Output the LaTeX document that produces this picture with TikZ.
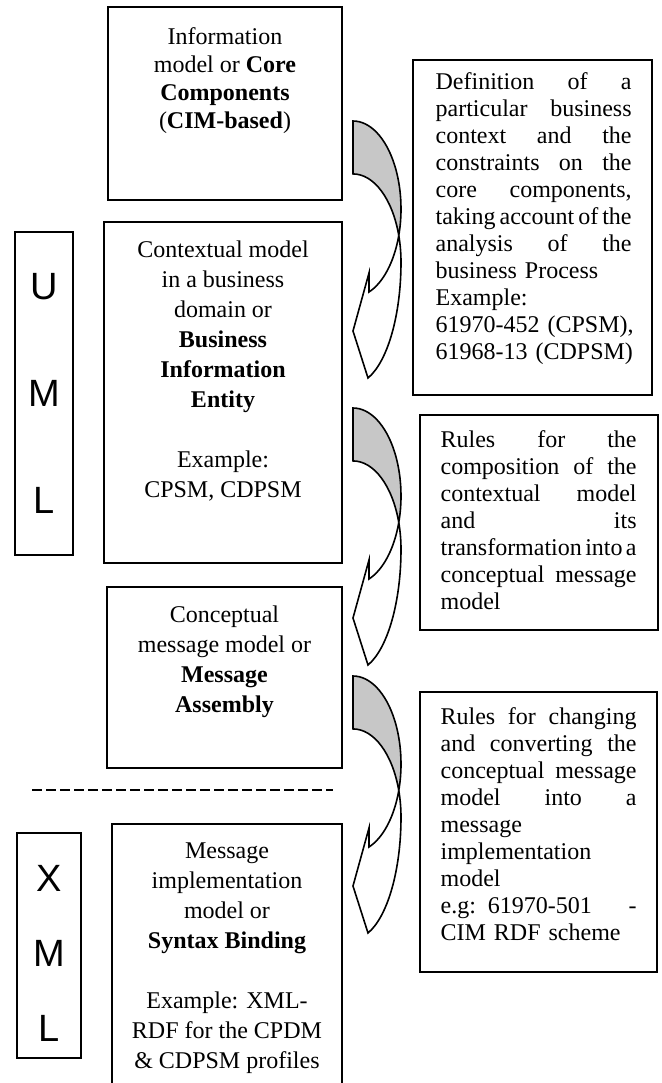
\documentclass[tikz,border=0pt]{standalone}
\usepackage{fontspec}
\setmainfont{Liberation Serif}
\newfontfamily\lettersfont{Liberation Sans}
\usetikzlibrary{fit,positioning}
% one justified line of a right hand box
\newcommand{\jline}[1]{{\spaceskip=0.25em plus 2em minus 0.15em\makebox[\linewidth][s]{#1}}}

\begin{document}
\begin{tikzpicture}[x=0.5pt,y=0.5pt,
		frame/.style={draw,line width=0.8pt,inner sep=0pt},
		lefttext/.style={align=center,inner sep=0pt,font=\fontsize{12}{15}\selectfont},
		righttext/.style={align=left,inner sep=0pt,text width=98pt,font=\fontsize{12}{13.5}\selectfont},
		backpart/.style={draw,line width=0.8pt,fill=black!22},
		frontpart/.style={draw,line width=0.8pt,fill=white}]
		\clip (0,0) rectangle (661,-1083);
		% left column
		\node[frame,fit={(108,-7) (342,-200)}] (info) {};
		\node[frame,fit={(104,-222) (342,-563)}] (context) {};
		\node[frame,fit={(107,-587) (342,-768)}] (concept) {};
		\node[frame,fit={(112,-824) (342,-1100)}] (implem) {};
		\node[frame,fit={(15,-232) (73,-555)}] (uml) {};
		\node[frame,fit={(17,-833) (81,-1058)}] (xml) {};
		\node[lefttext,font=\fontsize{12}{14}\selectfont,below=10.5pt of info.north] (infotext) {Information\\ model or \textbf{Core}\\ \textbf{Components}\\ (\textbf{CIM-based})};
		\node[lefttext,below=9.5pt of context.north] (contexttext) {Contextual model\\ in a business\\ domain or\\ \textbf{Business}\\ \textbf{Information}\\ \textbf{Entity}\\[15pt] Example:\\ CPSM, CDPSM};
		\node[lefttext,below=9.5pt of concept.north] (concepttext) {Conceptual\\ message model or\\ \textbf{Message}\\ \textbf{Assembly}};
		\node[lefttext,below=9.5pt of implem.north] (implemtext) {Message\\ implementation\\ model or\\ \textbf{Syntax Binding}\\[15pt] Example: XML-\\ RDF for the CPDM\\ \& CDPSM profiles};
		\node[align=center,inner sep=0pt,font=\lettersfont\fontsize{19}{53.5}\selectfont] (umltext) at (uml.center) {U\\ M\\ L};
		\node[align=center,inner sep=0pt,font=\lettersfont\fontsize{19}{37.5}\selectfont] (xmltext) at ([yshift=-3.75pt]xml.center) {X\\ M\\ L};
		\draw[line width=1pt,dash pattern=on 5pt off 2pt] (32,-790) -- (333,-790);
		% right column
		\node[frame,fit={(413,-60) (652,-395)}] (defn) {};
		\node[frame,fit={(420,-415) (658,-630)}] (compose) {};
		\node[frame,fit={(420,-692) (657,-972)}] (convert) {};
		\node[righttext,below right=6.5pt and 11.5pt of defn.north west] (defntext) {\jline{Definition of a}\\ \jline{particular business}\\ \jline{context and the}\\ \jline{constraints on the}\\ \jline{core components,}\\ \jline{taking account of the}\\ \jline{analysis of the}\\ business Process\\ Example:\\ \mbox{61970-452 (CPSM),}\\ \mbox{61968-13 (CDPSM)}};
		\node[righttext,below right=8pt and 10.5pt of compose.north west] (composetext) {\jline{Rules for the}\\ \jline{composition of the}\\ \jline{contextual model}\\ \jline{and its}\\ \jline{transformation into a}\\ \jline{conceptual message}\\ model};
		\node[righttext,below right=8pt and 10.5pt of convert.north west] (converttext) {\jline{Rules for changing}\\ \jline{and converting the}\\ \jline{conceptual message}\\ \jline{model into a}\\ message\\ implementation\\ model\\ \jline{e.g: 61970-501 -}\\ \mbox{CIM RDF scheme}};
		% curved arrows between the left boxes
		\foreach \ytop in {121,408,676} {
			\draw[backpart] (353,-\ytop) arc[start angle=90,end angle=-17.5,x radius=48,y radius=88]
				arc[start angle=17.5,end angle=90,x radius=48,y radius=88] -- cycle;
			\draw[frontpart] (398.78,-\ytop-114.46) arc[start angle=-17.5,end angle=-70.5,x radius=48,y radius=88]
				-- (369,-\ytop-152) -- (353,-\ytop-210) -- (368,-\ytop-257)
				arc[start angle=-71.79,end angle=0,x radius=48,y radius=122]
				arc[start angle=0,end angle=17.5,x radius=48,y radius=88] -- cycle;
		}
		\end{tikzpicture}
\end{document}
